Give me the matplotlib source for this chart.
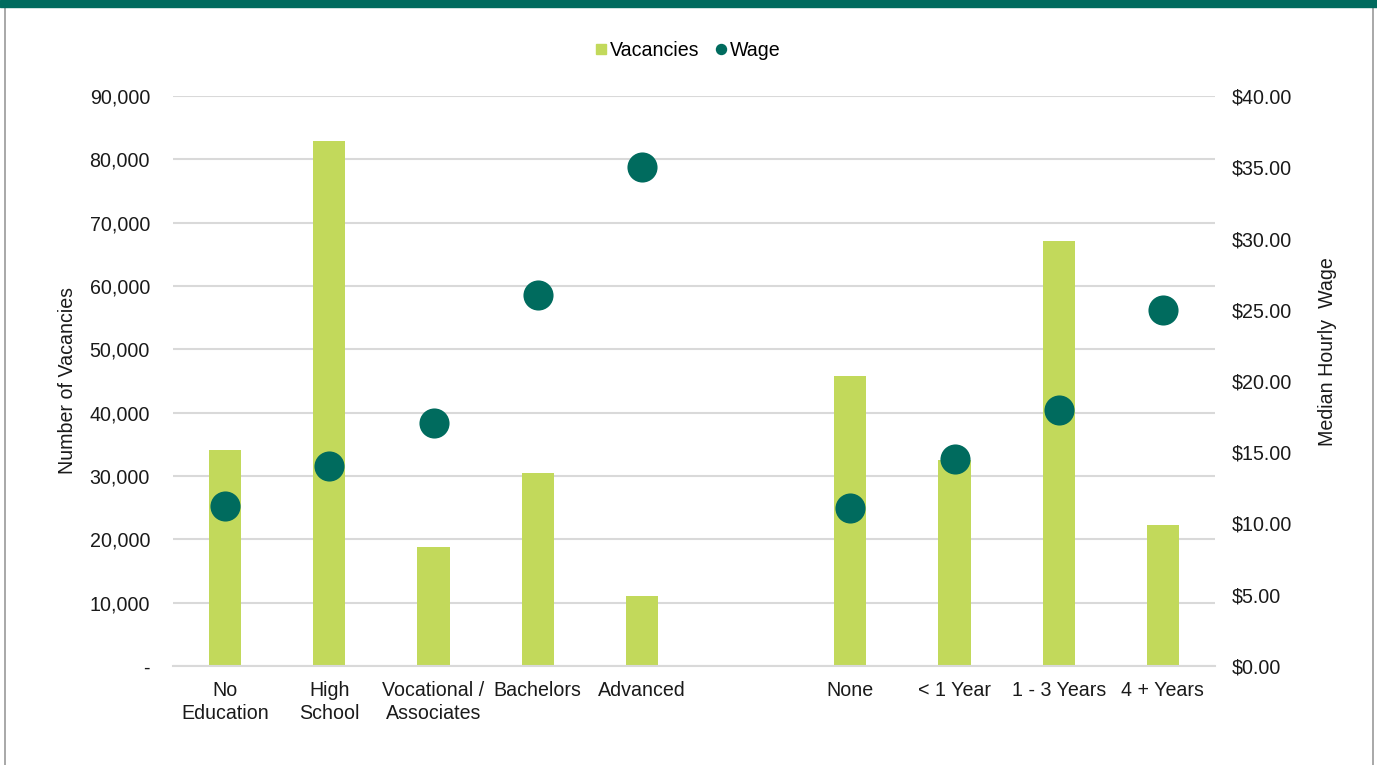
import numpy as np
import matplotlib
matplotlib.use("Agg")
import matplotlib.pyplot as plt
from matplotlib.lines import Line2D
from matplotlib.ticker import FuncFormatter

plt.rcParams['font.family'] = ['Liberation Sans', 'DejaVu Sans']

categories = ["No\nEducation", "High\nSchool", "Vocational /\nAssociates", "Bachelors", "Advanced",
              "", "None", "< 1 Year", "1 - 3 Years", "4 + Years"]
vacancies = [34100, 82900, 18800, 30500, 11100, np.nan, 45800, 32500, 67100, 22300]
wages = [11.25, 14.05, 17.05, 26.05, 35.0, np.nan, 11.1, 14.55, 17.95, 25.0]
left_ticks = [0, 10000, 20000, 30000, 40000, 50000, 60000, 70000, 80000, 90000]
right_ticks = [0, 5, 10, 15, 20, 25, 30, 35, 40]

BAR = "#C2D95B"
DOT = "#006B5E"
GRID = "#D9D9D9"
TXT = "#1a1a1a"
FS = 14.1

fig = plt.figure(figsize=(13.77, 7.65), dpi=100)
ax = fig.add_axes([173/1377, 1-666/765, (1215-173)/1377, (666-96)/765])
ax2 = ax.twinx()

x = np.arange(len(categories))
ax.bar(x, vacancies, width=0.31, color=BAR, zorder=2)
ax2.scatter(x, wages, s=470, color=DOT, zorder=3, linewidths=0)

ax.set_xlim(-0.5, len(categories) - 0.5)
ax.set_ylim(0, 90000)
ax2.set_ylim(0, 40)
ax.set_yticks(left_ticks)
ax2.set_yticks(right_ticks)
ax.yaxis.set_major_formatter(FuncFormatter(lambda v, p: "-" if v == 0 else f"{int(v):,}"))
ax2.yaxis.set_major_formatter(FuncFormatter(lambda v, p: f"${v:.2f}"))
ax.set_xticks(x)
ax.set_xticklabels(categories, linespacing=1.25)

ax.grid(axis='y', color=GRID, linewidth=1.5, zorder=0)
ax.set_axisbelow(True)
for a in (ax, ax2):
    for s in a.spines.values():
        s.set_visible(False)
ax.spines['bottom'].set_visible(True)
ax.spines['bottom'].set_color(GRID)
ax.spines['bottom'].set_linewidth(1.5)

ax.tick_params(axis='both', length=0, labelsize=FS, colors=TXT)
ax.tick_params(axis='y', pad=16.5)
ax.tick_params(axis='x', pad=11)
ax2.tick_params(axis='y', length=0, labelsize=FS, colors=TXT, pad=12.2)

ax.set_ylabel("Number of Vacancies", fontsize=FS, color=TXT)
ax.yaxis.set_label_coords(-0.092, 0.5)
ax2.set_ylabel("Median Hourly  Wage", fontsize=FS, color=TXT)
ax2.yaxis.set_label_coords(1.099, 0.551)

handles = [Line2D([], [], marker='s', linestyle='none', color=BAR, markersize=7.2),
           Line2D([], [], marker='o', linestyle='none', color=DOT, markersize=7.2)]
fig.legend(handles, ["Vacancies", "Wage"], loc='center', bbox_to_anchor=(0.499, 0.934),
           ncol=2, frameon=False, fontsize=FS, handletextpad=0.05, columnspacing=0.7,
           handlelength=0.8)

# top band and frame
fig.add_artist(plt.Rectangle((0, 1-6.7/765), 1, 6.7/765, transform=fig.transFigure,
                             color=DOT, zorder=5))
fig.add_artist(Line2D([5/1377, 5/1377], [0, 1-6.7/765], transform=fig.transFigure,
                      color="#9a9a9a", linewidth=1.2))
fig.add_artist(Line2D([1372.5/1377, 1372.5/1377], [0, 1-6.7/765], transform=fig.transFigure,
                      color="#9a9a9a", linewidth=1.2))

fig.savefig("out.png", dpi=100)
